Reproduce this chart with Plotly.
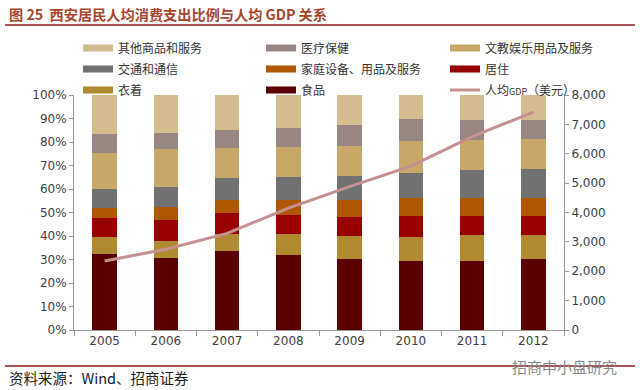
import plotly.graph_objects as go

years = ["2005", "2006", "2007", "2008", "2009", "2010", "2011", "2012"]

# consumption shares (%), stacked bottom -> top
food      = [32.3, 30.8, 33.5, 32.0, 30.4, 29.5, 29.5, 30.1]
clothing  = [7.4, 7.2, 7.4, 8.7, 9.6, 9.9, 11.1, 10.4]
residence = [8.0, 8.8, 9.0, 8.4, 8.2, 9.1, 8.0, 8.0]
household = [4.2, 5.7, 5.4, 6.2, 7.0, 7.5, 7.7, 7.8]
transport = [8.1, 8.5, 9.5, 9.9, 10.3, 10.9, 11.8, 12.1]
culture   = [15.2, 15.9, 12.5, 12.8, 12.8, 13.5, 12.8, 12.8]
medical   = [8.2, 6.8, 7.8, 8.1, 9.1, 9.5, 8.5, 8.2]
other     = [16.6, 16.3, 14.9, 13.9, 12.6, 10.1, 10.6, 10.6]

gdp = [2350, 2750, 3290, 4150, 4880, 5580, 6580, 7420]

left_ticks = [0, 10, 20, 30, 40, 50, 60, 70, 80, 90, 100]
left_labels = ["0%", "10%", "20%", "30%", "40%", "50%", "60%", "70%", "80%", "90%", "100%"]
right_ticks = [0, 1000, 2000, 3000, 4000, 5000, 6000, 7000, 8000]
right_labels = ["0", "1,000", "2,000", "3,000", "4,000", "5,000", "6,000", "7,000", "8,000"]

W, H = 640, 390
L, R, T, B = 74, 76, 95, 60
PW, PH = W - L - R, H - T - B


def px(x):
    return (x - L) / PW


def py(y):
    return (H - B - y) / PH


series = [
    ("食品", food, "#5A0000", "legend2", 3),
    ("衣着", clothing, "#B08A30", "legend", 3),
    ("居住", residence, "#980000", "legend3", 2),
    ("家庭设备、用品及服务", household, "#AF5800", "legend2", 2),
    ("交通和通信", transport, "#717171", "legend", 2),
    ("文教娱乐用品及服务", culture, "#C8A868", "legend3", 1),
    ("医疗保健", medical, "#988683", "legend2", 1),
    ("其他商品和服务", other, "#D5BC8E", "legend", 1),
]

fig = go.Figure()
for name, vals, color, _, _ in series:
    fig.add_trace(go.Bar(x=years, y=vals, name=name, marker=dict(color=color, line=dict(width=0)),
                         showlegend=False, yaxis="y"))

# legend swatches (wide flat bars like the original)
for name, vals, color, lg, rank in series:
    fig.add_trace(go.Scatter(x=[None], y=[None], mode="lines", name=name,
                             line=dict(color=color, width=7), legend=lg,
                             legendgroup=name, legendrank=rank, hoverinfo="skip"))

fig.add_trace(go.Scatter(x=years, y=gdp, mode="lines",
                         name="人均<span style='font-size:9px'>GDP</span>（美元）",
                         line=dict(color="#C49090", width=3), yaxis="y2",
                         legend="legend3", legendgroup="gdp", legendrank=3))

font_cjk = "Noto Sans CJK SC"
tickfont = dict(family="DejaVu Sans", size=12, color="#404040")
legfont = dict(family=font_cjk, size=12, color="#333333")


def leg(x):
    return dict(x=x, xref="paper", xanchor="left", y=py(33.5), yref="paper",
                yanchor="top", orientation="v", font=legfont, bgcolor="rgba(0,0,0,0)",
                tracegroupgap=2, traceorder="grouped", itemwidth=30)


fig.update_layout(
    width=W, height=H,
    margin=dict(l=L, r=R, t=T, b=B, autoexpand=False),
    paper_bgcolor="white", plot_bgcolor="white",
    barmode="stack", bargap=0.6,
    showlegend=True,
    legend=leg(px(78)), legend2=leg(px(261)), legend3=leg(px(445)),
    xaxis=dict(type="category", tickson="boundaries", ticks="outside", ticklen=5,
               tickcolor="#999999", showline=True, linecolor="#999999", linewidth=1,
               tickfont=tickfont, showgrid=False, automargin=False),
    yaxis=dict(range=[0, 100], tickvals=left_ticks, ticktext=left_labels, ticks="outside",
               ticklen=4, tickcolor="#999999", showline=True, linecolor="#999999",
               showgrid=False, zeroline=False, tickfont=tickfont, automargin=False),
    yaxis2=dict(range=[0, 8000], tickvals=right_ticks, ticktext=right_labels, overlaying="y",
                side="right", ticks="outside", ticklen=4, tickcolor="#999999",
                showline=True, linecolor="#999999", showgrid=False, zeroline=False,
                tickfont=tickfont, automargin=False),
    font=dict(family=font_cjk),
)

fig.add_annotation(text="<b>图 25  西安居民人均消费支出比例与人均 GDP 关系</b>",
                   x=px(7), y=py(14), xref="paper", yref="paper", xanchor="left",
                   yanchor="middle", showarrow=False,
                   font=dict(family=font_cjk, size=14.2, color="#A8442A"))
fig.add_annotation(text="资料来源：Wind、招商证券", x=px(7), y=py(377), xref="paper",
                   yref="paper", xanchor="left", yanchor="middle", showarrow=False,
                   font=dict(family=font_cjk, size=14.5, color="#222222"))
fig.add_annotation(text="招商中小盘研究", x=px(564), y=py(366), xref="paper",
                   yref="paper", xanchor="center", yanchor="middle", showarrow=False,
                   font=dict(family=font_cjk, size=15, color="#8A8A8A"))

fig.add_shape(type="line", xref="paper", yref="paper", x0=px(5), x1=px(635),
              y0=py(25), y1=py(25), line=dict(color="#8B1A1A", width=1.5))
fig.add_shape(type="line", xref="paper", yref="paper", x0=px(5), x1=px(635),
              y0=py(366), y1=py(366), line=dict(color="#8B1A1A", width=1.5), layer="below")

fig.write_html("out.html", config={"displayModeBar": False},
               post_script="document.body.style.margin='0';document.body.style.overflow='hidden';")
